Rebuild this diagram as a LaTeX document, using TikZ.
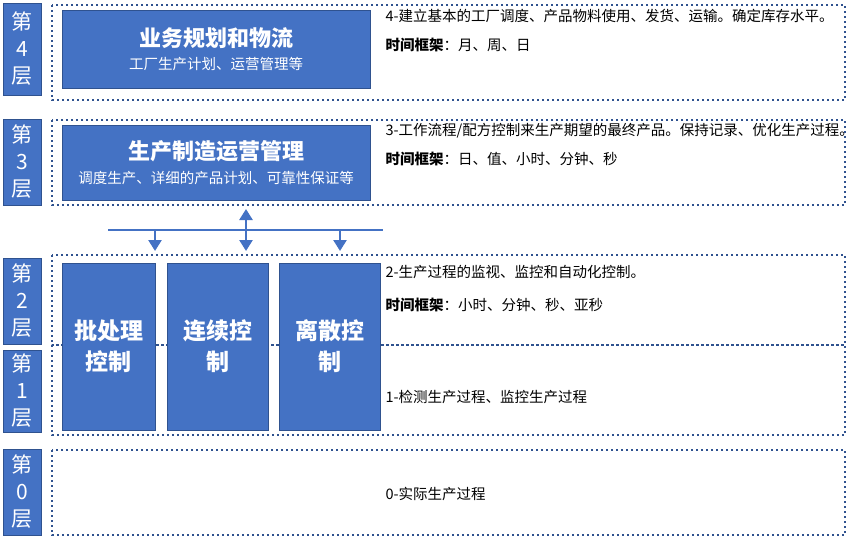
\documentclass[tikz,border=0pt]{standalone}
\usepackage{fontspec}
\setmainfont{Noto Sans CJK SC}
\usetikzlibrary{arrows.meta}
\definecolor{mainblue}{HTML}{4472C4}
\definecolor{darkblue}{HTML}{2F528F}
\tikzset{
  layerlabel/.style={draw=darkblue, fill=mainblue, text=white, font=\fontsize{21}{27}\selectfont, align=center, line width=1pt},
  layerframe/.style={draw=darkblue, dash pattern=on 2pt off 3pt, line width=2.5pt},
  bluebox/.style={draw=darkblue, fill=mainblue, text=white, align=center},
  desc/.style={anchor=north west, align=left, text width=450pt, font=\fontsize{14.5}{19}\selectfont},
  busline/.style={draw=mainblue, line width=2.5pt},
  busarrow/.style={busline, -{Triangle[width=13pt,length=11pt]}}
}
\begin{document}
\begin{tikzpicture}[x=1pt,y=-1pt]
\useasboundingbox (0,0) rectangle (850,539);

% Layer labels
\node[layerlabel, minimum width=38pt, minimum height=92pt] (lab4) at (22,49) {第\\4\\层};
\node[layerlabel, minimum width=38pt, minimum height=86pt] (lab3) at (22,162) {第\\3\\层};
\node[layerlabel, minimum width=38pt, minimum height=86pt] (lab2) at (22,301) {第\\2\\层};
\node[layerlabel, minimum width=38pt, minimum height=82pt] (lab1) at (22,391) {第\\1\\层};
\node[layerlabel, minimum width=38pt, minimum height=86pt] (lab0) at (22,492) {第\\0\\层};

% Dotted layer frames
\draw[layerframe] (52,5) rectangle (845,100);
\draw[layerframe] (52,120) rectangle (845,205);
\draw[layerframe] (52,255) rectangle (845,345);
\draw[layerframe] (52,345) rectangle (845,435);
\draw[layerframe] (52,450) rectangle (845,535);

% Blue boxes
\node[bluebox, minimum width=308pt, minimum height=78pt] (plan) at (216,49)
  {{\fontsize{22}{26}\selectfont\bfseries 业务规划和物流}\\[8pt]{\fontsize{14.5}{17}\selectfont 工厂生产计划、运营管理等}};
\node[bluebox, minimum width=308pt, minimum height=75pt] (mes) at (216,162.5)
  {{\fontsize{22}{26}\selectfont\bfseries 生产制造运营管理}\\[8pt]{\fontsize{14.5}{17}\selectfont 调度生产、详细的产品计划、可靠性保证等}};
\node[bluebox, minimum width=93pt, minimum height=167pt, font=\fontsize{23}{31}\selectfont\bfseries] (batch) at (108.5,346.5) {批处理\\控制};
\node[bluebox, minimum width=101pt, minimum height=167pt, font=\fontsize{23}{31}\selectfont\bfseries] (cont) at (217.5,346.5) {连续控\\制};
\node[bluebox, minimum width=101pt, minimum height=167pt, font=\fontsize{23}{31}\selectfont\bfseries] (disc) at (329.5,346.5) {离散控\\制};

% Bus between layer 3 and layer 2
\coordinate (busl) at (108,230);
\coordinate (busr) at (383,230);
\draw[busline] (busl) -- (busr);
\draw[busarrow] (155,230) -- (155,251);
\draw[busarrow] (340,230) -- (340,251);
\draw[busline, {Triangle[width=13pt,length=11pt]}-{Triangle[width=13pt,length=11pt]}] (246,209) -- (246,251);

% Descriptions
\node[desc] (d4) at (382,6) {4-建立基本的工厂调度、产品物料使用、发货、运输。确定库存水平。\\[10pt]\textbf{时间框架}：月、周、日};
\node[desc] (d3) at (382,120) {3-工作流程/配方控制来生产期望的最终产品。保持记录、优化生产过程。\\[10pt]\textbf{时间框架}：日、值、小时、分钟、秒};
\node[desc] (d2) at (382,262) {2-生产过程的监视、监控和自动化控制。\\[14pt]\textbf{时间框架}：小时、分钟、秒、亚秒};
\node[desc, anchor=west] (d1) at (382,397) {1-检测生产过程、监控生产过程};
\node[desc, anchor=west] (d0) at (382,494) {0-实际生产过程};
\end{tikzpicture}
\end{document}
